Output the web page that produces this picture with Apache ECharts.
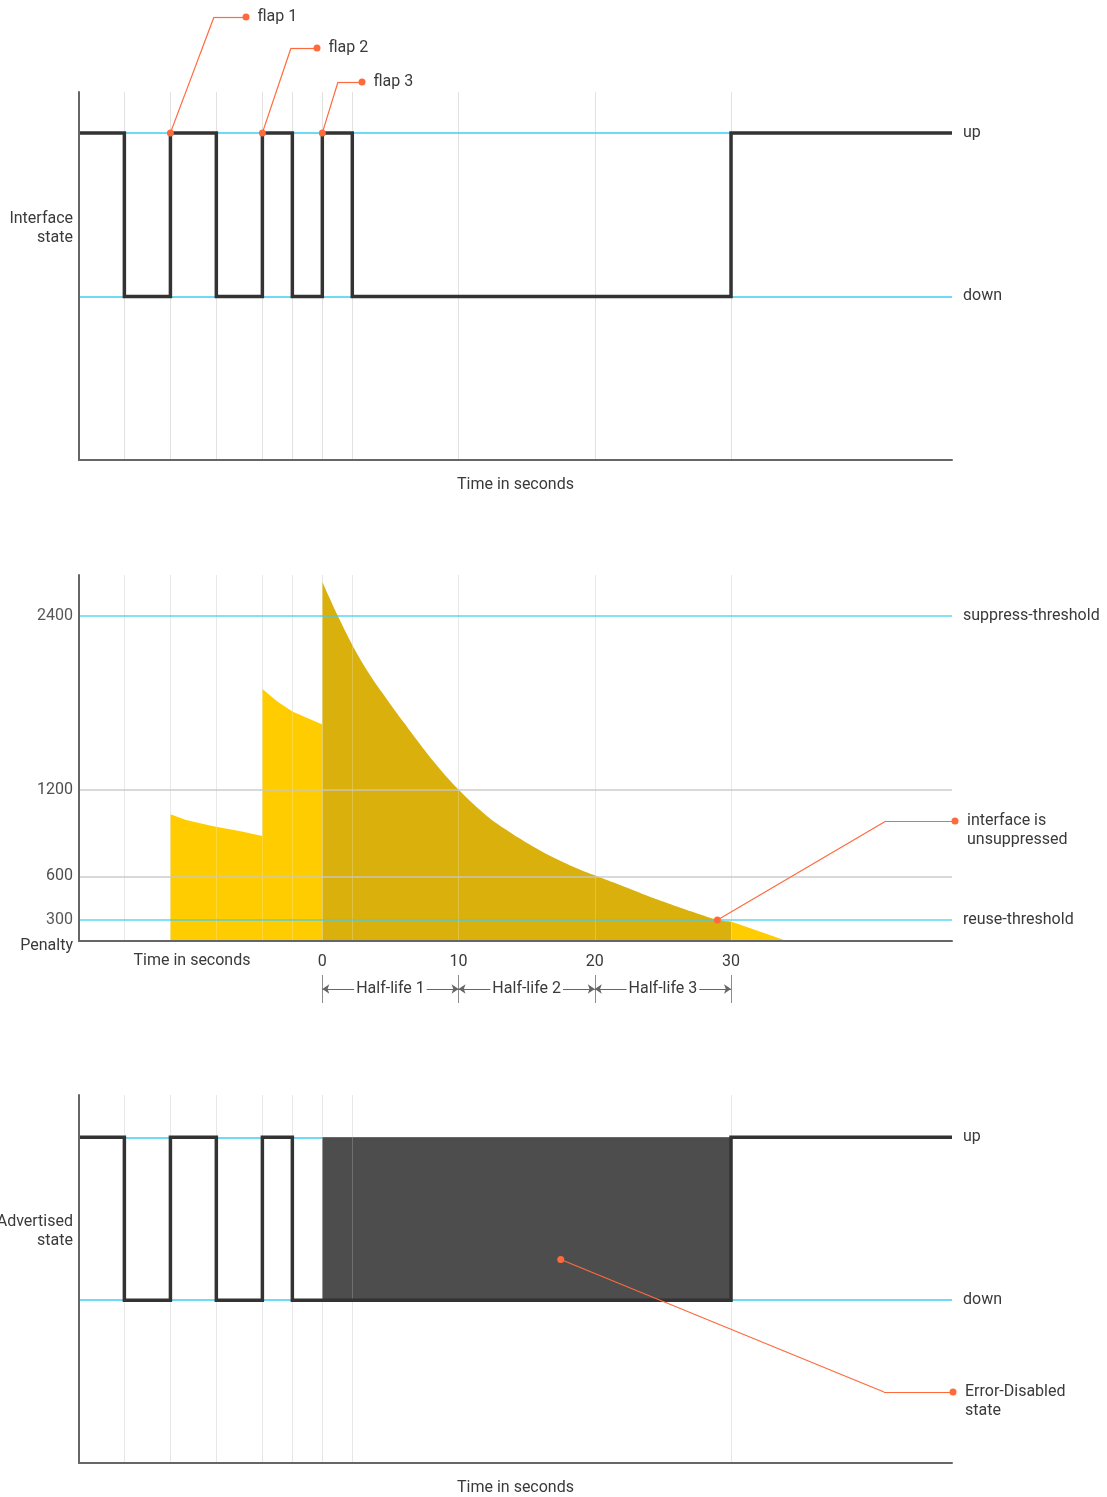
<!DOCTYPE html>
<html>
<head>
<meta charset="utf-8">
<title>Interface dampening</title>
<script src="https://cdn.jsdelivr.net/npm/echarts@6/dist/echarts.min.js"></script>
<style>
    html, body { margin: 0; padding: 0; background: #fff; }
    #chart-container { width: 1107px; height: 1497px; }
</style>
</head>
<body>
<div id="chart-container"></div>
<script>
// time in seconds, 0 = third flap
const timeRange = [-17.86, 46.22];
const gridTimes = [-14.53, -11.15, -7.78, -4.4, -2.2, 0, 2.2, 10, 20, 30];
const advertisedGridTimes = [-14.53, -11.15, -7.78, -4.4, -2.2, 0, 2.2, 30];

// [time, new state] with 1 = up, 0 = down
const interfaceState = [[-17.86, 1], [-14.53, 0], [-11.15, 1], [-7.78, 0], [-4.4, 1], [-2.2, 0], [0, 1], [2.2, 0], [30, 1], [46.22, 1]];
const advertisedState = [[-17.86, 1], [-14.53, 0], [-11.15, 1], [-7.78, 0], [-4.4, 1], [-2.2, 0], [30, 1], [46.22, 1]];
const stateLevels = [1, 0];
const stateNames = ['up', 'down'];

const flapTimes = [-11.15, -4.4, 0];
const flapNames = ['flap 1', 'flap 2', 'flap 3'];

// penalty [time, value]
const penaltyBefore = [[-11.15, 1029], [-10, 990], [-8, 947], [-6, 912], [-4.4, 879], [-4.4, 1893], [-3.3, 1808], [-2.2, 1739], [-1.1, 1694], [0, 1648]];
const penaltySuppressed = [[0, 2634], [0.5, 2528], [1.1, 2405], [2.3, 2180], [3.5, 1990], [4.8, 1815], [6, 1660], [7.2, 1509], [8.5, 1356], [10, 1200],
    [12.1, 1016], [13.5, 922], [15, 833], [17, 730], [18.9, 649], [20, 608], [21.9, 539], [23.5, 480], [25, 428], [26.5, 378], [29, 302], [30, 290]];
const penaltyAfter = [[30, 290], [34.1, 155]];
const penaltyRange = [155, 2680];
const penaltyTicks = [300, 600, 1200, 2400];
const thresholds = [2400, 300];
const thresholdNames = ['suppress-threshold', 'reuse-threshold'];

const halfLifeBounds = [0, 10, 20, 30];
const halfLifeNames = ['Half-life 1', 'Half-life 2', 'Half-life 3'];

const unsuppressedAt = [29, 300];
const suppressWindow = [0, 30];
const errorDisabledAt = [17.5, 0.25];

document.addEventListener('DOMContentLoaded', function () {

    const ink = '#3a3a3a';
    const cyan = '#3ccff2';
    const orange = '#ff6a3d';
    const font = 'Roboto, "Liberation Sans", sans-serif';
    const fs = 16;

    function timeAxis(gridIndex, extra) {
        return Object.assign({
            type: 'value', gridIndex: gridIndex, min: timeRange[0], max: timeRange[1],
            axisLine: { show: true, onZero: false, lineStyle: { color: '#666', width: 2 } },
            axisTick: { show: false }, axisLabel: { show: false }, splitLine: { show: false },
            z: 7
        }, extra || {});
    }

    function plainAxis(gridIndex, min, max, extra) {
        return Object.assign({
            type: 'value', gridIndex: gridIndex, min: min, max: max,
            axisLine: { show: true, onZero: false, lineStyle: { color: '#666', width: 2 } },
            axisTick: { show: false }, axisLabel: { show: false }, splitLine: { show: false },
            z: 7
        }, extra || {});
    }

    function verticalLines(idx, times, color, z) {
        return {
            type: 'line', xAxisIndex: idx, yAxisIndex: idx, data: [], silent: true,
            markLine: {
                silent: true, symbol: 'none', z: z, label: { show: false },
                lineStyle: { color: color, width: 1, type: 'solid' },
                data: times.map(t => ({ xAxis: t }))
            }
        };
    }

    function stateLines(idx) {
        return {
            type: 'line', xAxisIndex: idx, yAxisIndex: idx, data: [], silent: true,
            markLine: {
                silent: true, symbol: 'none', z: 2,
                lineStyle: { color: cyan, width: 1.5, type: 'solid' },
                label: { show: true, position: 'end', distance: 11, color: ink, fontSize: fs, fontFamily: font, formatter: '{b}' },
                data: stateLevels.map((v, i) => ({ yAxis: v, name: stateNames[i] }))
            }
        };
    }

    function signal(idx, data) {
        return {
            type: 'line', xAxisIndex: idx, yAxisIndex: idx, step: 'end', data: data,
            symbol: 'none', silent: true, z: 5,
            lineStyle: { color: '#333', width: 3.5, join: 'miter' }
        };
    }

    // callout: anchor in data space, elbow and end dot placed in the margin
    function callout(idx, anchors, elbows, ends, names, labelPos) {
        const lines = [];
        const points = [];
        anchors.forEach((a, i) => {
            lines.push([{ coord: a }, { x: elbows[i][0], y: elbows[i][1] }]);
            lines.push([{ x: elbows[i][0], y: elbows[i][1] }, { x: ends[i][0], y: ends[i][1] }]);
            points.push({ coord: a });
            points.push({ x: ends[i][0], y: ends[i][1], name: names[i], label: { show: true } });
        });
        return {
            type: 'line', xAxisIndex: idx, yAxisIndex: idx, data: [], silent: true,
            markLine: {
                silent: true, symbol: 'none', z: 6, label: { show: false },
                lineStyle: { color: orange, width: 1.2, type: 'solid' },
                data: lines
            },
            markPoint: {
                silent: true, symbol: 'circle', symbolSize: 7, z: 6,
                itemStyle: { color: orange },
                label: {
                    show: false, position: labelPos, distance: 8, color: ink, fontSize: fs,
                    fontFamily: font, lineHeight: 19, formatter: '{b}'
                },
                data: points
            }
        };
    }

    const overlayLines = [];
    gridTimes.forEach(t => overlayLines.push({ xAxis: t, lineStyle: { color: 'rgba(255,255,255,0.22)', width: 1 } }));
    penaltyTicks.forEach(v => {
        const isThreshold = thresholds.indexOf(v) >= 0;
        overlayLines.push({
            yAxis: v, name: String(v),
            lineStyle: { color: isThreshold ? cyan : '#c6c6c6', width: 1.5, opacity: isThreshold ? 0.85 : 0.9 },
            label: { show: true, position: 'start', distance: 6 }
        });
    });
    thresholds.forEach((v, i) => overlayLines.push({
        yAxis: v, name: thresholdNames[i],
        lineStyle: { color: 'rgba(0,0,0,0)' },
        label: { show: true, position: 'end', distance: 11 }
    }));

    const halfLifeArrows = halfLifeNames.map((n, i) => [
        { coord: [halfLifeBounds[i], 0.5], name: n },
        { coord: [halfLifeBounds[i + 1], 0.5] }
    ]);

    const nameStyle = { color: ink, fontSize: fs, fontFamily: font };

    const option = {
        animation: false,
        backgroundColor: '#fff',
        textStyle: { fontFamily: font },
        grid: [
            { left: 79, right: 155, top: 92, height: 368 },
            { left: 79, right: 155, top: 575, height: 366 },
            { left: 79, right: 155, top: 1095, height: 368 },
            { left: 79, right: 155, top: 975, height: 28 }
        ],
        xAxis: [
            timeAxis(0, { name: 'Time in seconds', nameLocation: 'middle', nameGap: 17, nameTextStyle: nameStyle }),
            timeAxis(1),
            timeAxis(2, { name: 'Time in seconds', nameLocation: 'middle', nameGap: 17, nameTextStyle: nameStyle }),
            timeAxis(3, { axisLine: { show: false } })
        ],
        yAxis: [
            plainAxis(0, -1, 1.25),
            plainAxis(1, penaltyRange[0], penaltyRange[1]),
            plainAxis(2, -1, 1.26),
            plainAxis(3, 0, 1, { axisLine: { show: false } })
        ],
        graphic: [
            { type: 'text', x: 73, y: 228, style: { text: 'Interface\nstate', align: 'right', verticalAlign: 'middle', textAlign: 'right', textVerticalAlign: 'middle', fill: ink, font: fs + 'px ' + font, lineHeight: 19 } },
            { type: 'text', x: 73, y: 946, style: { text: 'Penalty', align: 'right', verticalAlign: 'middle', textAlign: 'right', textVerticalAlign: 'middle', fill: ink, font: fs + 'px ' + font } },
            { type: 'text', x: 192, y: 961, style: { text: 'Time in seconds', align: 'center', verticalAlign: 'middle', textAlign: 'center', textVerticalAlign: 'middle', fill: ink, font: fs + 'px ' + font } },
            { type: 'text', x: 73, y: 1231, style: { text: 'Advertised\nstate', align: 'right', verticalAlign: 'middle', textAlign: 'right', textVerticalAlign: 'middle', fill: ink, font: fs + 'px ' + font, lineHeight: 19 } }
        ],
        series: [
            // interface state
            verticalLines(0, gridTimes, '#e2e2e2', 1),
            stateLines(0),
            signal(0, interfaceState),
            callout(0, flapTimes.map(t => [t, 1]),
                [[214, 17], [291, 48], [338, 82]],
                [[246, 17], [317, 48], [362, 82]],
                flapNames, 'right'),

            // penalty
            verticalLines(1, gridTimes, '#e2e2e2', 1),
            {
                type: 'line', xAxisIndex: 1, yAxisIndex: 1, data: penaltyBefore, symbol: 'none', silent: true, z: 3,
                lineStyle: { width: 0 }, itemStyle: { color: '#ffcc00' },
                areaStyle: { color: '#ffcc00', opacity: 1, origin: 'start' }
            },
            {
                type: 'line', xAxisIndex: 1, yAxisIndex: 1, data: penaltySuppressed, symbol: 'none', silent: true, z: 3,
                smooth: 0.4, lineStyle: { width: 0 }, itemStyle: { color: '#d9b00c' },
                areaStyle: { color: '#d9b00c', opacity: 1, origin: 'start' }
            },
            {
                type: 'line', xAxisIndex: 1, yAxisIndex: 1, data: penaltyAfter, symbol: 'none', silent: true, z: 3,
                lineStyle: { width: 0 }, itemStyle: { color: '#ffcc00' },
                areaStyle: { color: '#ffcc00', opacity: 1, origin: 'start' }
            },
            {
                type: 'line', xAxisIndex: 1, yAxisIndex: 1, data: [], silent: true,
                markLine: {
                    silent: true, symbol: 'none', z: 4,
                    label: { show: false, color: ink, fontSize: fs, fontFamily: font, formatter: '{b}' },
                    lineStyle: { type: 'solid' },
                    data: overlayLines
                }
            },
            callout(1, [unsuppressedAt], [[886, 821]], [[955, 821]], ['interface is\nunsuppressed'], [15.5, -6]),

            // half-life brackets under the penalty axis
            {
                type: 'line', xAxisIndex: 3, yAxisIndex: 3, data: [], silent: true,
                markLine: {
                    silent: true, symbol: 'none', z: 4,
                    lineStyle: { color: '#8c8c8c', width: 1, type: 'solid' },
                    label: { show: true, position: 'end', distance: 5, color: ink, fontSize: fs, fontFamily: font, formatter: '{b}' },
                    data: halfLifeBounds.map(t => ({ xAxis: t, name: String(t) }))
                }
            },
            {
                type: 'line', xAxisIndex: 3, yAxisIndex: 3, data: [], silent: true,
                markLine: {
                    silent: true, symbol: ['arrow', 'arrow'], symbolSize: 7, z: 5,
                    lineStyle: { color: '#666', width: 1, type: 'solid' },
                    label: {
                        show: true, position: 'middle', distance: 0, verticalAlign: 'middle',
                        color: ink, fontSize: fs, fontFamily: font, backgroundColor: '#fff', padding: [0, 2],
                        formatter: '{b}'
                    },
                    data: halfLifeArrows
                }
            },

            // advertised state
            verticalLines(2, advertisedGridTimes, '#e2e2e2', 1),
            stateLines(2),
            {
                type: 'line', xAxisIndex: 2, yAxisIndex: 2, data: [], silent: true,
                markArea: {
                    silent: true, z: 3,
                    itemStyle: { color: '#4d4d4d', opacity: 1 },
                    data: [[{ coord: [suppressWindow[0], 0] }, { coord: [suppressWindow[1], 1] }]]
                }
            },
            verticalLines(2, advertisedGridTimes, 'rgba(255,255,255,0.2)', 4),
            signal(2, advertisedState),
            callout(2, [errorDisabledAt], [[884, 1392]], [[953, 1392]], ['Error-Disabled\nstate'], [15.5, -6])
        ]
    };

    const chart = echarts.init(document.getElementById('chart-container'));
    chart.setOption(option);
});
</script>
</body>
</html>
